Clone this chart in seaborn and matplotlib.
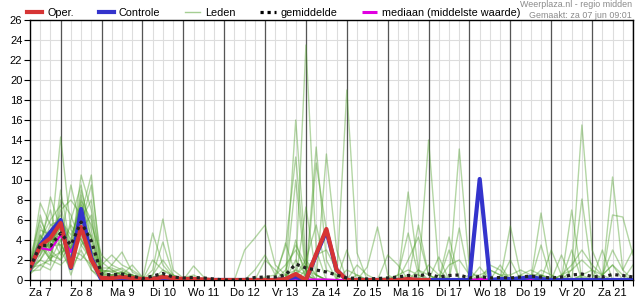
import numpy as np
import pandas as pd
import matplotlib
matplotlib.use("Agg")
import matplotlib.pyplot as plt
from matplotlib.lines import Line2D
import seaborn as sns

plt.rcParams['font.family'] = ['Liberation Sans', 'DejaVu Sans']

# ---- data -------------------------------------------------------------
# 6-hourly steps, starting za 7 jun 06:00
day_labels = ["Za 7", "Zo 8", "Ma 9", "Di 10", "Wo 11", "Do 12", "Vr 13",
              "Za 14", "Zo 15", "Ma 16", "Di 17", "Wo 18", "Do 19", "Vr 20", "Za 21"]
steps = list(range(60))

oper = [1.2, 3.4, 4.2, 5.7, 1.3, 5.3, 2.0, 0.2,
        0.2, 0.3, 0.2, 0.1, 0.1, 0.3, 0.2, 0.1, 0.1, 0.05, 0.0, 0.0, 0.0, 0.0, 0.0, 0.0,
        0.0, 0.1, 0.6, 0.0, 2.6, 5.1, 1.0, 0.0, 0.0, 0.0, 0.0, 0.0,
        0.0, 0.1, 0.0, 0.0]

controle = [1.1, 3.5, 4.8, 6.0, 1.2, 7.1, 2.2, 0.0,
            0.1, 0.2, 0.1, 0.0, 0.1, 0.2, 0.1, 0.0, 0.0, 0.0, 0.0, 0.0, 0.0, 0.0, 0.0, 0.0,
            0.0, 0.1, 0.3, 0.0, 2.5, 4.9, 1.0, 0.0, 0.0, 0.0, 0.0, 0.0,
            0.0, 0.0, 0.0, 0.0, 0.0, 0.0, 0.0, 0.0, 10.1, 0.0, 0.1, 0.1,
            0.15, 0.3, 0.1, 0.0, 0.0, 0.0, 0.0, 0.0, 0.0, 0.0, 0.0, 0.0]

gemiddelde = [1.2, 3.5, 3.4, 4.7, 3.5, 5.8, 3.9, 0.6,
              0.5, 0.6, 0.4, 0.15, 0.4, 0.65, 0.3, 0.2, 0.25, 0.2, 0.1, 0.0, 0.0, 0.05, 0.25, 0.3,
              0.3, 0.5, 1.6, 1.2, 1.0, 0.8, 0.5, 0.2, 0.15, 0.1, 0.15, 0.2,
              0.3, 0.45, 0.4, 0.6, 0.3, 0.45, 0.5, 0.2, 0.35, 0.2, 0.25, 0.2,
              0.3, 0.4, 0.3, 0.2, 0.3, 0.5, 0.6, 0.35, 0.3, 0.55, 0.45, 0.3]

mediaan = [1.2, 3.2, 3.0, 4.5, 2.8, 5.0, 2.3, 0.2,
           0.2, 0.3, 0.2, 0.05, 0.1, 0.3, 0.1, 0.05, 0.0, 0.0, 0.0, 0.0, 0.0, 0.0, 0.0, 0.0,
           0.0, 0.0, 0.1, 0.05, 0.05, 0.05, 0.0, 0.0, 0.0, 0.0, 0.0, 0.0,
           0.05, 0.15, 0.05, 0.0, 0.0, 0.0, 0.05, 0.0, 0.1, 0.05, 0.0, 0.0,
           0.0, 0.05, 0.0, 0.0, 0.0, 0.0, 0.05, 0.0, 0.0, 0.05, 0.0, 0.0]

leden = [
    [1.0, 7.7, 5.5, 6.0, 4.0, 8.0, 6.0, 1.0,
     0.8, 1.2, 0.5, 0.1, 0.3, 0.5, 0.2, 0.0, 0.0, 0.0, 0.0, 0.0, 0.0, 0.0, 0.0, 0.0,
     0.0, 0.2, 16.0, 2.0, 0.5, 0.0, 0.0, 0.0, 0.0, 0.0, 0.0, 0.3,
     0.0, 0.5, 0.2, 0.0, 0.0, 0.0, 0.0, 0.0, 0.0, 0.0, 0.0, 0.0,
     0.0, 0.0, 0.5, 0.2, 0.0, 0.0, 0.3, 0.0, 0.0, 0.0, 0.0, 0.0],
    [1.5, 3.0, 8.3, 5.0, 3.0, 6.5, 10.5, 0.5,
     1.5, 2.8, 0.8, 0.2, 0.0, 0.3, 0.0, 0.0, 0.0, 0.0, 0.0, 0.0, 0.0, 0.0, 0.2, 0.0,
     0.0, 0.5, 1.0, 23.5, 3.0, 0.0, 0.0, 0.0, 0.5, 0.0, 0.0, 0.0,
     0.0, 0.0, 0.0, 0.0, 0.5, 0.0, 0.0, 0.0, 0.3, 0.0, 0.0, 0.0,
     0.0, 0.0, 0.0, 0.0, 0.5, 1.0, 15.5, 3.0, 0.5, 0.0, 0.0, 0.0],
    [0.8, 2.0, 3.5, 14.3, 5.0, 4.0, 2.0, 0.3,
     0.2, 0.5, 0.3, 0.0, 1.0, 6.1, 1.0, 0.2, 0.5, 0.0, 0.0, 0.0, 0.0, 0.0, 0.0, 0.0,
     0.0, 0.0, 0.0, 0.5, 13.3, 2.0, 0.0, 0.0, 0.0, 0.0, 0.0, 0.0,
     0.0, 8.8, 1.0, 0.0, 0.0, 0.0, 0.0, 0.0, 0.0, 0.0, 0.0, 0.0,
     0.0, 0.5, 0.0, 0.0, 0.0, 0.0, 0.5, 0.0, 0.0, 10.3, 1.0, 0.0],
    [1.2, 6.5, 3.0, 2.0, 6.0, 9.5, 4.0, 0.8,
     1.0, 0.5, 0.2, 0.0, 4.7, 1.5, 0.3, 0.0, 0.0, 0.0, 0.0, 0.0, 0.0, 0.0, 0.0, 0.3,
     0.5, 3.3, 12.3, 1.0, 0.0, 0.0, 0.0, 0.0, 0.0, 0.0, 0.0, 0.0,
     0.0, 0.0, 0.0, 14.0, 1.0, 0.0, 0.0, 0.0, 0.0, 0.0, 0.0, 0.0,
     0.0, 0.0, 0.0, 0.0, 0.0, 0.0, 0.0, 0.0, 0.0, 0.0, 0.0, 0.0],
    [2.0, 4.0, 6.0, 7.5, 2.5, 10.5, 7.0, 1.5,
     2.5, 1.5, 1.0, 0.3, 0.0, 0.0, 0.0, 0.0, 0.0, 0.0, 0.0, 0.0, 0.0, 0.0, 0.0, 0.0,
     0.0, 0.0, 0.5, 1.5, 0.0, 12.6, 3.0, 0.0, 0.0, 0.0, 0.0, 0.0,
     0.0, 0.0, 0.0, 0.0, 0.0, 0.0, 13.1, 1.0, 0.0, 0.0, 0.0, 0.0,
     0.0, 0.0, 0.0, 0.0, 0.0, 0.0, 0.0, 0.0, 0.0, 0.0, 0.0, 0.0],
    [0.6, 1.5, 1.0, 3.0, 1.0, 3.0, 1.0, 0.0,
     0.0, 0.0, 0.0, 0.0, 0.0, 0.0, 0.0, 0.0, 0.0, 0.0, 0.0, 0.0, 0.0, 3.0, 4.2, 5.5,
     1.5, 0.5, 0.0, 0.0, 0.0, 0.0, 0.0, 19.0, 2.7, 0.0, 0.0, 0.0,
     0.0, 0.0, 0.0, 0.0, 0.0, 0.0, 0.0, 0.0, 0.0, 0.0, 0.0, 5.4,
     0.5, 0.0, 0.0, 0.0, 0.0, 0.0, 0.0, 0.0, 0.0, 0.0, 0.0, 0.0],
    [1.4, 3.5, 2.0, 4.0, 9.5, 5.0, 3.0, 0.2,
     0.5, 0.8, 0.3, 0.0, 0.5, 3.8, 0.5, 0.0, 0.0, 0.0, 0.0, 0.0, 0.0, 0.0, 0.0, 0.0,
     0.0, 0.0, 10.0, 0.5, 0.0, 0.0, 0.0, 0.0, 0.0, 1.3, 5.3, 0.5,
     0.0, 0.0, 0.0, 0.0, 0.0, 0.0, 0.0, 0.0, 0.0, 0.0, 0.0, 0.0,
     0.0, 0.0, 6.7, 0.5, 0.0, 0.0, 0.0, 0.0, 0.0, 0.0, 0.0, 0.0],
    [1.0, 5.0, 4.5, 2.5, 4.0, 7.5, 5.5, 2.5,
     1.5, 1.0, 0.5, 0.2, 0.0, 0.0, 0.0, 0.0, 1.4, 0.3, 0.0, 0.0, 0.0, 0.0, 0.0, 0.0,
     0.0, 0.0, 0.0, 7.3, 0.5, 0.0, 0.0, 0.0, 0.0, 0.0, 0.0, 0.0,
     0.0, 0.0, 5.5, 0.5, 0.0, 0.0, 0.0, 0.0, 0.0, 0.0, 1.5, 0.0,
     0.0, 0.0, 0.0, 0.0, 0.0, 7.0, 0.0, 0.0, 0.0, 0.0, 0.0, 0.0],
    [1.8, 2.5, 5.0, 6.5, 3.0, 2.5, 1.5, 0.0,
     0.0, 0.3, 0.0, 0.0, 0.3, 0.5, 0.0, 0.0, 0.0, 0.0, 0.0, 0.0, 0.0, 0.0, 0.0, 0.0,
     0.0, 0.0, 0.3, 0.0, 11.7, 5.0, 0.0, 0.0, 0.0, 0.0, 0.0, 0.0,
     0.0, 0.0, 0.0, 0.0, 0.0, 0.0, 0.0, 0.0, 1.3, 0.0, 0.0, 0.0,
     0.0, 0.0, 0.0, 0.0, 0.0, 0.0, 8.1, 0.5, 0.0, 0.0, 0.0, 0.0],
    [0.5, 4.5, 2.5, 5.5, 1.5, 6.0, 8.0, 1.0,
     0.8, 0.5, 1.5, 0.3, 0.0, 0.0, 0.0, 0.2, 0.3, 0.0, 0.0, 0.0, 0.0, 0.0, 0.0, 0.0,
     0.0, 3.7, 0.5, 0.0, 0.0, 0.0, 0.0, 3.0, 0.0, 0.0, 0.0, 0.0,
     0.0, 0.0, 0.0, 0.0, 0.0, 4.3, 0.0, 0.0, 0.0, 0.0, 0.0, 0.0,
     0.0, 0.0, 0.0, 0.0, 0.0, 0.0, 0.0, 0.0, 0.0, 6.5, 6.3, 2.5],
    [1.3, 3.0, 3.5, 3.5, 2.0, 4.5, 2.5, 0.4,
     0.3, 0.0, 0.0, 0.0, 0.0, 0.0, 0.0, 0.0, 0.0, 0.0, 0.0, 0.0, 0.0, 0.0, 0.0, 0.0,
     0.0, 0.0, 0.0, 0.0, 0.0, 0.0, 0.0, 0.0, 0.0, 0.0, 0.0, 0.0,
     0.5, 4.7, 0.5, 0.0, 0.0, 0.0, 0.0, 0.0, 0.0, 0.0, 0.0, 0.0,
     0.0, 0.0, 0.0, 3.0, 0.5, 0.0, 0.0, 0.0, 0.0, 0.0, 0.0, 0.0],
    [1.0, 2.0, 1.5, 8.0, 6.5, 3.5, 2.0, 0.6,
     0.5, 0.8, 0.4, 0.0, 0.0, 1.0, 0.5, 0.0, 0.0, 0.0, 0.0, 0.0, 0.0, 0.0, 0.0, 0.0,
     0.0, 0.0, 2.0, 0.5, 0.0, 0.0, 0.0, 0.0, 0.0, 0.0, 0.0, 2.5,
     1.5, 0.0, 0.0, 0.0, 0.0, 0.0, 0.0, 0.0, 0.0, 0.0, 0.0, 2.0,
     0.0, 0.0, 3.5, 0.0, 0.0, 0.0, 0.0, 0.0, 0.0, 0.0, 0.0, 0.0],
    [2.2, 6.0, 4.0, 4.5, 2.0, 8.5, 3.0, 0.2,
     0.0, 0.0, 0.0, 0.0, 0.0, 0.0, 0.0, 0.0, 0.0, 0.0, 0.0, 0.0, 0.0, 0.0, 0.0, 0.0,
     0.0, 0.0, 0.5, 0.0, 0.0, 0.0, 0.0, 0.0, 0.0, 0.0, 0.0, 0.0,
     0.0, 0.0, 0.0, 0.0, 0.0, 0.0, 5.2, 0.0, 0.0, 0.0, 0.0, 0.0,
     0.0, 0.0, 0.0, 0.0, 0.0, 0.0, 0.0, 0.0, 0.5, 1.5, 0.0, 0.0],
    [0.9, 1.0, 2.5, 2.0, 3.5, 5.5, 9.5, 1.8,
     1.0, 0.5, 0.0, 0.0, 0.0, 0.0, 0.0, 0.0, 0.0, 0.0, 0.0, 0.0, 0.0, 0.0, 0.0, 2.0,
     1.0, 0.0, 0.0, 0.0, 0.0, 0.0, 0.0, 0.0, 0.0, 0.0, 0.0, 0.0,
     0.0, 0.0, 0.0, 0.0, 2.3, 0.0, 0.0, 0.0, 0.0, 0.0, 0.0, 0.0,
     0.0, 0.0, 0.0, 0.0, 2.5, 0.0, 0.0, 0.0, 3.0, 0.0, 0.0, 0.0],
    [1.6, 4.0, 7.0, 3.0, 5.5, 4.0, 2.5, 0.0,
     0.0, 0.0, 0.0, 0.0, 0.0, 0.0, 0.0, 0.0, 0.0, 0.0, 0.0, 0.0, 0.0, 0.0, 0.0, 0.0,
     0.0, 0.0, 0.0, 0.0, 0.0, 0.0, 0.0, 0.0, 0.0, 0.0, 0.0, 0.0,
     0.0, 0.0, 0.0, 0.0, 0.0, 0.0, 0.0, 0.0, 0.0, 0.0, 0.0, 0.0,
     0.0, 0.0, 0.0, 0.0, 0.0, 3.0, 0.0, 0.0, 0.0, 0.0, 0.0, 0.0],
    [1.1, 3.5, 2.0, 9.0, 3.0, 6.0, 1.0, 0.3,
     0.2, 0.0, 0.0, 0.0, 0.0, 0.0, 0.0, 0.0, 0.0, 0.0, 0.0, 0.0, 0.0, 0.0, 0.0, 0.0,
     0.0, 0.0, 4.0, 0.0, 0.0, 0.0, 0.0, 0.0, 0.0, 0.0, 0.0, 0.0,
     0.0, 0.0, 0.0, 0.0, 0.0, 3.0, 0.0, 0.0, 0.0, 0.0, 0.0, 0.0,
     0.0, 0.0, 0.0, 0.0, 0.0, 0.0, 0.0, 0.0, 0.0, 0.0, 0.0, 0.0],
    [0.7, 2.5, 4.0, 4.0, 0.5, 3.5, 4.5, 0.9,
     0.5, 0.3, 0.0, 0.0, 0.0, 0.0, 0.0, 0.0, 0.0, 0.0, 0.0, 0.0, 0.0, 0.0, 0.0, 0.0,
     0.0, 1.0, 3.5, 1.5, 0.5, 0.0, 0.0, 0.0, 0.0, 0.0, 0.0, 0.0,
     0.0, 0.0, 0.0, 1.5, 0.5, 0.0, 0.0, 0.0, 0.0, 0.0, 0.0, 0.0,
     0.0, 0.0, 1.0, 0.5, 0.0, 0.0, 0.0, 0.0, 0.0, 0.0, 0.0, 0.0],
    [1.5, 5.5, 3.0, 6.0, 4.5, 7.0, 2.0, 0.1,
     0.0, 0.0, 0.0, 0.0, 0.3, 0.5, 0.0, 0.0, 0.0, 0.0, 0.0, 0.0, 0.0, 0.0, 0.0, 0.0,
     0.0, 0.0, 0.0, 1.0, 2.5, 3.0, 1.0, 0.0, 0.0, 0.0, 0.0, 0.0,
     0.0, 0.0, 0.0, 0.0, 0.0, 0.0, 0.0, 0.0, 0.0, 0.0, 0.0, 0.0,
     0.0, 0.0, 0.0, 0.0, 0.0, 0.0, 0.0, 0.0, 0.0, 0.0, 0.0, 0.0],
    [1.2, 1.5, 2.0, 1.5, 2.5, 2.0, 3.5, 0.5,
     0.2, 0.0, 0.0, 0.0, 0.0, 0.0, 0.0, 0.0, 0.0, 0.0, 0.0, 0.0, 0.0, 0.0, 0.0, 0.0,
     0.0, 0.0, 0.0, 0.0, 0.0, 0.0, 0.0, 0.0, 0.0, 0.0, 0.0, 0.0,
     0.0, 0.0, 0.0, 0.0, 0.0, 0.0, 0.0, 0.0, 0.0, 1.5, 1.0, 0.0,
     0.0, 0.0, 0.0, 0.0, 0.0, 0.0, 0.5, 1.0, 0.0, 0.0, 0.0, 0.0],
    [2.0, 3.0, 5.5, 5.0, 3.0, 9.0, 5.0, 0.7,
     0.5, 0.5, 0.5, 0.0, 0.0, 0.0, 0.0, 0.0, 0.0, 0.0, 0.0, 0.0, 0.0, 0.0, 0.0, 0.0,
     0.0, 0.0, 1.0, 0.5, 0.0, 0.0, 0.0, 0.0, 0.0, 0.0, 0.0, 0.0,
     0.0, 0.0, 1.0, 0.5, 0.0, 0.0, 0.0, 0.0, 0.0, 0.0, 0.0, 0.0,
     0.0, 0.0, 0.0, 0.0, 0.0, 0.0, 0.0, 0.0, 0.0, 0.0, 0.0, 1.5],
    [0.8, 4.5, 3.0, 7.0, 8.0, 6.5, 3.0, 1.2,
     1.2, 0.8, 0.3, 0.0, 2.0, 1.0, 0.3, 0.0, 0.0, 0.2, 0.0, 0.0, 0.0, 0.0, 1.0, 2.5,
     0.5, 1.5, 3.0, 1.0, 0.5, 0.0, 0.0, 1.0, 0.5, 0.0, 0.0, 0.0,
     0.5, 1.0, 0.5, 0.0, 0.0, 1.5, 2.0, 0.5, 0.0, 0.0, 0.0, 0.0,
     0.5, 1.0, 0.5, 0.0, 0.0, 1.0, 2.0, 1.0, 0.5, 1.5, 0.5, 0.0],
    [1.3, 2.0, 4.0, 3.5, 2.0, 5.0, 6.5, 0.0,
     0.0, 0.3, 0.5, 0.0, 0.0, 0.0, 0.0, 0.0, 0.0, 0.0, 0.0, 0.0, 0.0, 0.0, 0.0, 0.0,
     0.0, 0.0, 0.5, 2.0, 5.5, 1.0, 0.5, 0.0, 0.0, 0.0, 0.0, 0.0,
     0.0, 2.0, 4.3, 0.5, 0.0, 0.0, 0.0, 0.0, 0.0, 1.0, 0.5, 0.0,
     0.0, 0.0, 0.0, 0.0, 0.0, 0.0, 0.0, 0.0, 0.0, 0.0, 0.0, 0.0],
    [1.0, 3.8, 2.2, 2.8, 3.2, 4.2, 1.8, 0.4,
     0.3, 0.0, 0.0, 0.0, 0.5, 2.0, 0.5, 0.0, 0.0, 0.0, 0.0, 0.0, 0.0, 0.0, 0.0, 0.0,
     0.0, 0.0, 0.0, 0.0, 0.0, 0.0, 0.0, 0.0, 1.5, 0.5, 0.0, 0.0,
     0.0, 0.0, 0.0, 0.0, 0.0, 0.0, 0.0, 0.5, 0.5, 1.0, 0.5, 0.5,
     1.0, 0.5, 0.5, 0.0, 0.0, 0.0, 0.0, 0.0, 0.0, 0.0, 0.0, 0.0],
    [1.5, 2.8, 3.8, 5.2, 1.8, 7.8, 4.2, 0.6,
     0.4, 0.2, 0.0, 0.0, 0.0, 0.0, 0.0, 0.0, 0.0, 0.0, 0.0, 0.0, 0.0, 0.0, 0.0, 0.0,
     0.0, 0.0, 0.0, 0.0, 0.0, 0.0, 0.0, 0.0, 0.0, 0.0, 0.0, 0.0,
     0.0, 0.0, 0.0, 0.0, 0.0, 0.0, 0.0, 0.0, 0.0, 0.0, 0.0, 0.0,
     0.0, 0.0, 0.0, 0.0, 0.5, 1.5, 3.0, 1.5, 0.5, 3.0, 1.0, 3.0],
]

# ---- styling ------------------------------------------------------------
c_oper = '#d63434'
c_ctrl = '#3333cc'
c_lid = '#4c9e28'
c_med = '#e000e0'
c_mean = '#222222'

W, H = 635, 300
fig = plt.figure(figsize=(W / 100, H / 100), dpi=100)
ax = fig.add_axes([30 / W, 1 - 280 / H, 603 / W, 260 / H])

members_df = pd.DataFrame(
    [(f"lid{k}", s, v) for k, row in enumerate(leden) for s, v in zip(steps, row)],
    columns=["lid", "stap", "mm"])

sns.lineplot(data=members_df, x="stap", y="mm", units="lid", estimator=None,
             color=c_lid, alpha=0.42, linewidth=1.0, ax=ax, legend=False, sort=False)
sns.lineplot(x=steps, y=mediaan, color=c_med, linewidth=1.6, ax=ax, zorder=4)
sns.lineplot(x=steps, y=controle, color=c_ctrl, linewidth=3.0, ax=ax, zorder=5)
sns.lineplot(x=steps[:len(oper)], y=oper, color=c_oper, linewidth=3.0, ax=ax, zorder=6)
sns.lineplot(x=steps, y=gemiddelde, color=c_mean, linewidth=2.3, ax=ax, zorder=7,
             linestyle=(0, (1, 1.2)))

ax.set_xlim(0, 59)
ax.set_ylim(0, 26)
ax.set_xlabel("")
ax.set_ylabel("")

# ticks: every 6 h, labels at noon
ax.set_xticks(steps)
labels = [""] * len(steps)
for k, lab in enumerate(day_labels):
    labels[1 + 4 * k] = lab
ax.set_xticklabels(labels)
ax.set_yticks(range(0, 27, 2))
ax.tick_params(axis='both', direction='out', length=4, width=0.8, color='black',
               labelsize=8, pad=1.5)

ax.grid(True, color='#dddddd', linewidth=0.8)
ax.set_axisbelow(True)
for d in range(3, 60, 4):
    ax.axvline(d, color='#555555', linewidth=0.9, zorder=1.5)

for sp in ax.spines.values():
    sp.set_color('black')
    sp.set_linewidth(1.0)

# legend
handles = [
    Line2D([], [], color=c_oper, lw=3.0),
    Line2D([], [], color=c_ctrl, lw=3.0),
    Line2D([], [], color=c_lid, lw=1.0, alpha=0.5),
    Line2D([], [], color='black', lw=2.3, linestyle=(0, (1, 1.2))),
    Line2D([], [], color=c_med, lw=2.2, linestyle=(0, (5, 2.5, 1, 2))),
]
names = ["Oper.", "Controle", "Leden", "gemiddelde", "mediaan (middelste waarde)"]
fig.legend(handles, names, loc='center left', bbox_to_anchor=(27 / W, 1 - 13 / H),
           ncol=5, frameon=False, fontsize=7.8, handlelength=1.4, handletextpad=0.45,
           columnspacing=2.3, borderaxespad=0, borderpad=0)

fig.text(632 / W, 1 - 4.5 / H, "Weerplaza.nl - regio midden", ha='right', va='center',
         fontsize=6.4, color='#8a8a8a')
fig.text(632 / W, 1 - 15 / H, "Gemaakt: za 07 jun 09:01", ha='right', va='center',
         fontsize=6.4, color='#8a8a8a')

fig.savefig("out.png", dpi=100)
